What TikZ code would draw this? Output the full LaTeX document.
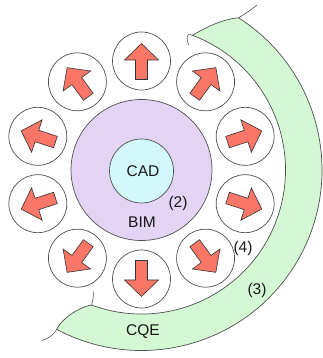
\documentclass[tikz,border=0pt]{standalone}
\usepackage{fontspec}
\setmainfont{Liberation Sans}
\definecolor{bimfill}{HTML}{E3D3F5}
\definecolor{cadfill}{HTML}{D2F8FA}
\definecolor{cqefill}{HTML}{D4F7D4}
\definecolor{arrowfill}{HTML}{FA7666}
\definecolor{edge}{HTML}{505050}
\begin{document}
\begin{tikzpicture}[x=1pt,y=1pt,
  outline/.style={draw=edge, line width=0.7pt},
  bandshape/.style={outline, fill=cqefill},
  wisp/.style={draw=edge, line width=0.6pt},
  disc/.style={circle, outline, inner sep=0pt, minimum size=#1},
  ringcircle/.style={circle, outline, fill=white, inner sep=0pt, minimum size=58pt},
  arrowshape/.style={draw=black!80, line width=0.6pt, fill=arrowfill, line join=miter},
  label/.style={font=\fontsize{15.5}{18}\selectfont, text=black!90, inner sep=0pt}
]
\useasboundingbox (0,0) rectangle (323,358);
\coordinate (o) at (141.5,188);

% CQE band wrapping the ring on the right
\coordinate (bo1) at ([shift={(57.5:180.5)}]o);
\coordinate (bi2) at ([shift={(-110.3:144)}]o);
\path[bandshape] (bo1) arc[start angle=57.5, end angle=-118, radius=180.5]
  .. controls (60,37) and (76,50) .. (bi2)
  arc[start angle=-110.3, end angle=69.3, radius=144] coordinate (bi1)
  .. controls (208,332) and (224,339) .. (bo1) -- cycle;
\coordinate (bo2) at ([shift={(-118:180.5)}]o);
% torn ends of the band
\draw[wisp] (bi1) .. controls (185,326) and (187,318) .. (188.5,313);
\draw[wisp] (bo1) .. controls (245,344) and (251,348) .. (257,353);
\draw[wisp] (bi2) .. controls (93,57) and (93.5,62) .. (93.3,66.5);
\draw[wisp] (bo2) .. controls (53,22) and (47,19) .. (41.5,17.5);

% BIM and CAD discs
\node[disc=141pt, fill=bimfill] (bim) at (o) {};
\node[disc=64pt, fill=cadfill] (cad) at (141.5,187) {};

% ring of ten circles with outward arrows
\foreach \i in {0,...,9}{
  \pgfmathsetmacro{\a}{90-36*\i}
  \node[ringcircle] (c\i) at ([shift={(\a:109)}]o) {};
  \draw[arrowshape, shift={(c\i.center)}, rotate=\a]
    (-18.5,-6) -- (1,-6) -- (1,-17) -- (17.5,0) -- (1,17) -- (1,6) -- (-18.5,6) -- cycle;
}

% labels
\node[label] (tcad) at (143,186.5) {CAD};
\node[label] (tbim) at (142,136) {BIM};
\node[label] (t2) at (178,155) {(2)};
\node[label] (t4) at (243,110) {(4)};
\node[label] (t3) at (257,68) {(3)};
\node[label] (tcqe) at (143,26) {CQE};
\end{tikzpicture}
\end{document}
